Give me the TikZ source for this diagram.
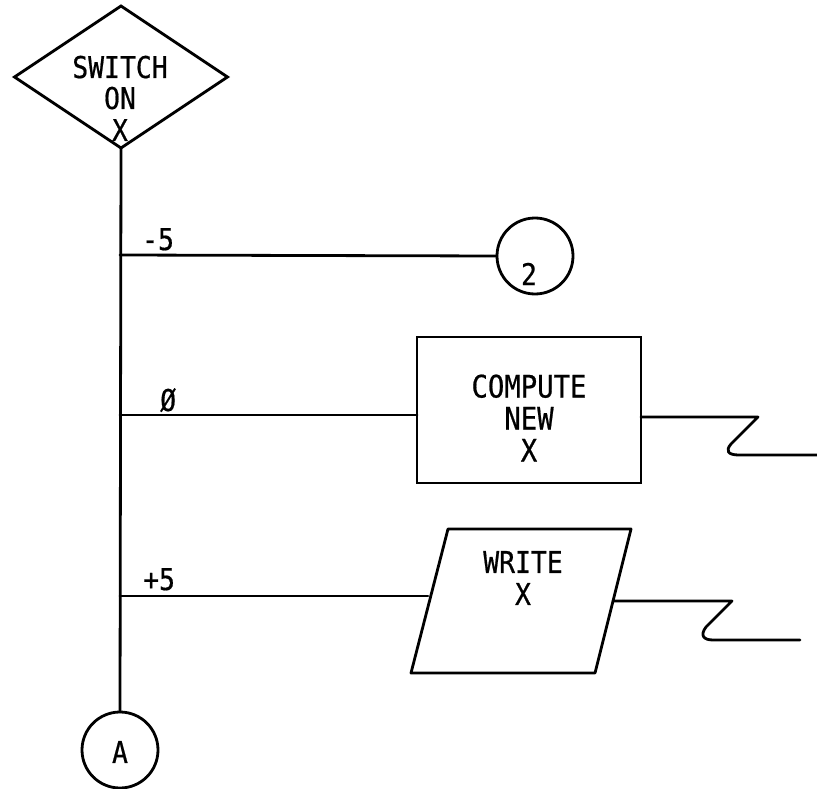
\documentclass[tikz,border=0pt]{standalone}
\usepackage{fontspec}
\newfontfamily\flowfont[FakeStretch=0.88,FakeBold=0.6]{DejaVu Sans Mono}
\usetikzlibrary{shapes.geometric}
\begin{document}
\begin{tikzpicture}[x=1pt,y=-1pt,
  ln/.style={line width=2.8pt,line join=round,line cap=round},
  txt/.style={font=\flowfont\fontsize{30}{32}\selectfont,inner sep=0pt,align=center},
  conn/.style={draw,circle,line width=2.8pt,minimum size=76pt,inner sep=0pt,outer sep=0pt}]
\useasboundingbox (0,0) rectangle (817,789);
% decision diamond
\node[draw,diamond,line width=2.8pt,minimum width=213pt,minimum height=142pt,inner sep=0pt,outer sep=0pt] (sw) at (121,77) {};
\node[txt,anchor=base] (swt1) at (120,78) {SWITCH};
\node[txt,anchor=base] (swt2) at (120,109) {ON};
\node[txt,anchor=base] (swt3) at (120,141) {X};
% connectors
\node[conn] (c2) at (535,256) {};
\node[txt] (c2t) at (529,274) {2};
\node[conn] (ca) at (120,750) {};
\node[txt] (cat) at (120,752) {A};
% compute box
\node[draw,line width=2.8pt,minimum width=224pt,minimum height=146pt,inner sep=0pt,outer sep=0pt] (cmp) at (529,410) {};
\node[txt,font=\flowfont\fontsize{31}{32}\selectfont] (cmpt) at (529,418) {COMPUTE\\NEW\\X};
% write parallelogram
\coordinate (wtl) at (448,529);
\coordinate (wtr) at (631,529);
\coordinate (wbr) at (595,673);
\coordinate (wbl) at (411,673);
\draw[ln] (wtl) -- (wtr) -- (wbr) -- (wbl) -- cycle;
\node[txt] (wrt) at (523,578) {WRITE\\X};
% spine and branches
\coordinate (j1) at (120,255);
\coordinate (j2) at (120,415);
\coordinate (j3) at (120,596);
\coordinate (wl) at (428,596);
\coordinate (wr) at (613,601);
\draw[ln] (sw.south) -- (ca.north);
\draw[ln] (j1) -- (c2.west);
\draw[ln] (j2) -- (cmp.west |- j2);
\draw[ln] (j3) -- (wl);
\node[txt,anchor=base west] (l1) at (142,250) {-5};
\node[txt,anchor=base west] (l2) at (160,411) {Ø};
\node[txt,anchor=base west] (l3) at (143,590) {+5};
% off-page breaks
\coordinate (z1) at (817,455);
\coordinate (z2) at (800,640);
\draw[ln] (cmp.east |- 0,417) -- (758,417) -- (731,444) .. controls (725,451) and (728,455) .. (739,455) -- (z1);
\draw[ln] (wr) -- (732,601) -- (706,627) .. controls (700,635) and (703,640) .. (713,640) -- (z2);
\end{tikzpicture}
\end{document}
